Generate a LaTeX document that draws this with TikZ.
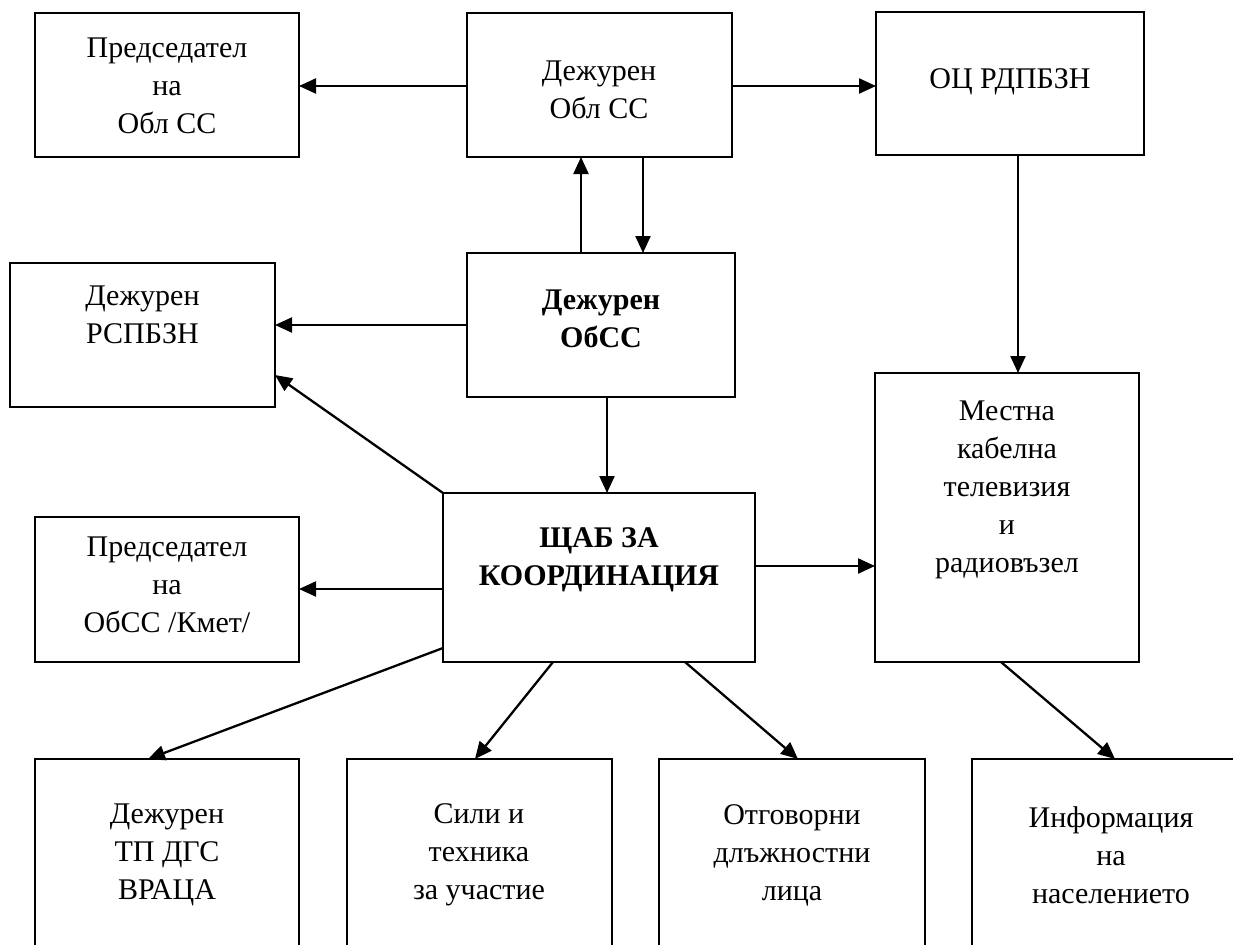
\documentclass[tikz,border=0pt]{standalone}
\usepackage{fontspec}
\setmainfont{Liberation Serif}
\usetikzlibrary{arrows.meta}
\begin{document}
\begin{tikzpicture}[x=0.5pt,y=-0.5pt,
  box/.style={draw, line width=1pt, inner sep=0pt, outer sep=0pt},
  txt/.style={align=center, inner sep=0pt, font=\fontsize{15pt}{19pt}\selectfont},
  btxt/.style={txt, font=\fontsize{15pt}{19pt}\selectfont\bfseries},
  arr/.style={line width=1.15pt, -{Triangle[length=8.5pt,width=7.5pt]}}]
\useasboundingbox (0,0) rectangle (1233,944);
\clip (0,0) rectangle (1233,944);
% boxes
\node[box, minimum width=132pt, minimum height=72pt] (b1) at (167,85) {};
\node[box, minimum width=132.5pt, minimum height=72pt] (b2) at (599.5,85) {};
\node[box, minimum width=134pt, minimum height=71.5pt] (b3) at (1010,83.5) {};
\node[box, minimum width=132.5pt, minimum height=72pt] (b4) at (142.5,335) {};
\node[box, minimum width=134pt, minimum height=72pt] (b5) at (601,325) {};
\node[box, minimum width=132pt, minimum height=144.5pt] (b6) at (1007,517.5) {};
\node[box, minimum width=156pt, minimum height=84.5pt] (b7) at (599,577.5) {};
\node[box, minimum width=132pt, minimum height=72.5pt] (b8) at (167,589.5) {};
\node[box, minimum width=132pt, minimum height=100.5pt] (bA) at (167,859.5) {};
\node[box, minimum width=132.5pt, minimum height=100.5pt] (bB) at (479.5,859.5) {};
\node[box, minimum width=133pt, minimum height=100.5pt] (bC) at (792,859.5) {};
\node[box, minimum width=139pt, minimum height=100.5pt] (bD) at (1111,859.5) {};
% texts
\node[txt] (t1) at (167,86) {Председател\\на\\Обл СС};
\node[txt] (t2) at (599,90) {Дежурен\\Обл СС};
\node[txt] (t3) at (1010,82) {ОЦ РДПБЗН};
\node[txt] (t4) at (142.5,315) {Дежурен\\РСПБЗН};
\node[btxt] (t5) at (601,319) {Дежурен\\ОбСС};
\node[txt] (t6) at (1007,490) {Местна\\кабелна\\телевизия\\и\\радиовъзел};
\node[btxt] (t7) at (599,560) {ЩАБ ЗА\\КООРДИНАЦИЯ};
\node[txt] (t8) at (167,585) {Председател\\на\\ОбСС /Кмет/};
\node[txt] (tA) at (167,855) {Дежурен\\ТП ДГС\\ВРАЦА};
\node[txt] (tB) at (479,855) {Сили и\\техника\\за участие};
\node[txt] (tC) at (792,855) {Отговорни\\длъжностни\\лица};
\node[txt] (tD) at (1111,855) {Информация\\на\\населението};
% helper coordinates
\coordinate (xu) at (581,0);
\coordinate (xd) at (643,0);
\coordinate (xo) at (1018,0);
\coordinate (xs) at (607,0);
\coordinate (ya) at (0,86);
\coordinate (yr) at (0,325);
\coordinate (yk) at (0,589);
\coordinate (ym) at (0,566);
\coordinate (yq) at (0,375);
\coordinate (yl) at (0,648);
\coordinate (xA) at (148,0);
\coordinate (xB1) at (553,0);
\coordinate (xB) at (475,0);
\coordinate (xC1) at (685,0);
\coordinate (xC) at (798,0);
\coordinate (xD1) at (1001,0);
\coordinate (xD) at (1115,0);
% arrows
\draw[arr] (b2.west |- ya) -- (b1.east |- ya);
\draw[arr] (b2.east |- ya) -- (b3.west |- ya);
\draw[arr] (b5.north -| xu) -- (b2.south -| xu);
\draw[arr] (b2.south -| xd) -- (b5.north -| xd);
\draw[arr] (b3.south -| xo) -- (b6.north -| xo);
\draw[arr] (b5.west |- yr) -- (b4.east |- yr);
\draw[arr] (b5.south -| xs) -- (b7.north -| xs);
\draw[arr] (b7.north west) -- (b4.east |- yq);
\draw[arr] (b7.west |- yk) -- (b8.east |- yk);
\draw[arr] (b7.east |- ym) -- (b6.west |- ym);
\draw[arr] (b7.west |- yl) -- (bA.north -| xA);
\draw[arr] (b7.south -| xB1) -- (bB.north -| xB);
\draw[arr] (b7.south -| xC1) -- (bC.north -| xC);
\draw[arr] (b6.south -| xD1) -- (bD.north -| xD);
\end{tikzpicture}
\end{document}
